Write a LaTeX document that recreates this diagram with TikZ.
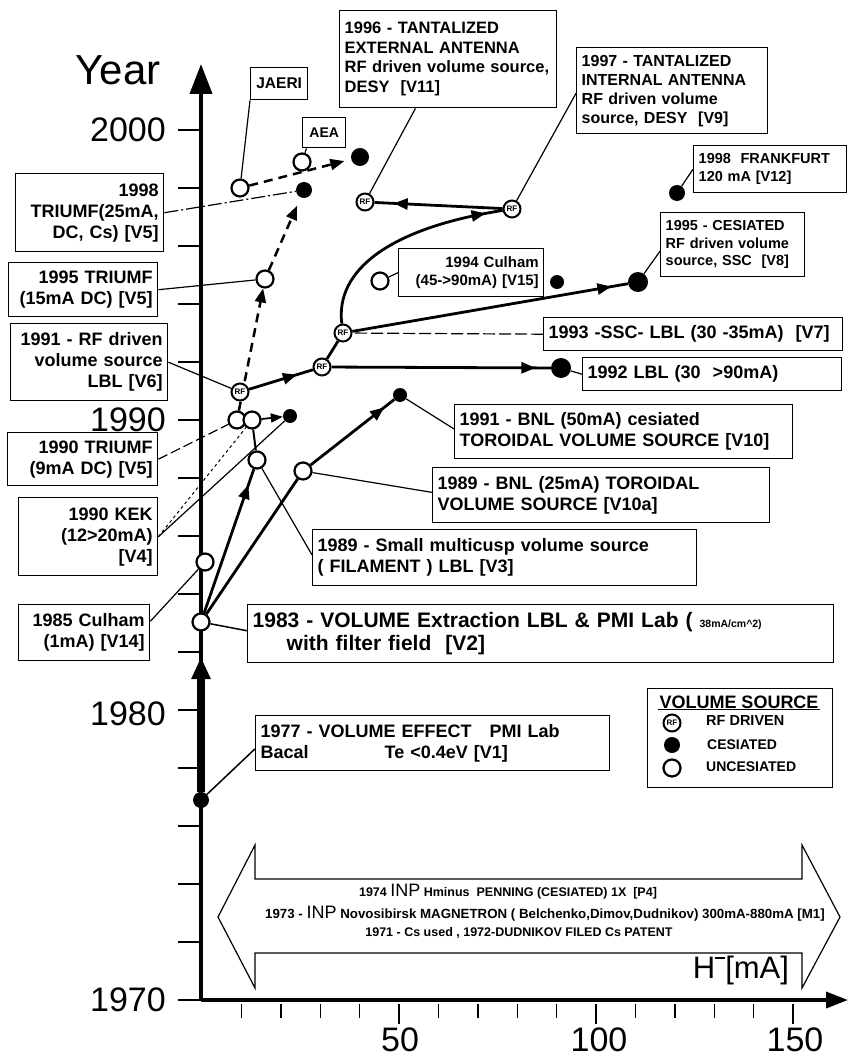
\documentclass[tikz,border=0pt]{standalone}
\usepackage{fontspec}
\setmainfont{Liberation Sans}
\usetikzlibrary{arrows.meta,decorations.markings,calc}
\pgfdeclarelayer{bg}
\pgfsetlayers{bg,main}
\tikzset{
 box/.style={draw, line width=1.4pt, fill=white, anchor=north west, inner xsep=5pt, inner ysep=0pt,
   font=\fontsize{18}{21}\selectfont\bfseries},
 odot/.style={circle, draw, line width=2.2pt, fill=white, minimum size=17pt, inner sep=0pt},
 fdot/.style={circle, fill=black, minimum size=#1, inner sep=0pt},
 fdot/.default=15pt,
 rfs/.style={circle, draw, line width=2pt, fill=white, minimum size=17pt, inner sep=0pt,
   font=\fontsize{8}{8}\selectfont\bfseries},
 ptr/.style={line width=1.2pt},
 thk/.style={line width=2.8pt},
 dsh/.style={line width=2.5pt, dash pattern=on 9pt off 6pt},
 arrmark/.style={postaction={decorate}, decoration={markings,
   mark=at position #1 with {\arrow{Triangle[length=14pt,width=11pt]}}}},
 tip/.style={-{Triangle[length=14pt,width=11pt]}},
 axlab/.style={font=\fontsize{34}{34}\selectfont, inner sep=0pt},
 tiny/.style={font=\fontsize{12.5}{13}\selectfont\bfseries, inner sep=0pt},
 lgtxt/.style={font=\fontsize{14}{14}\selectfont\bfseries, anchor=west, inner sep=0pt},
}
\begin{document}
\begin{tikzpicture}[x=1pt,y=-1pt]
\useasboundingbox (0,0) rectangle (848,1059);
% ---------- axes ----------
\coordinate (O) at (201,1000);
\coordinate (ytop) at (201,64);
\coordinate (xend) at (848,1000);
\coordinate (a83) at (201,657);
\begin{pgfonlayer}{bg}
\draw[line width=4pt, -{Triangle[length=30pt,width=22pt]}] (O) -- (ytop);
\draw[line width=3.5pt, -{Triangle[length=22pt,width=16pt]}] (O) -- (xend);
\foreach \k in {0,2,...,30} \draw[line width=1.4pt] (178,{1000-29*\k}) -- (201,{1000-29*\k});
\foreach \m in {10,20,30,40,60,70,80,90,110,120,130,140} \draw[line width=1.4pt] ({202+3.94*\m},1004) -- ({202+3.94*\m},1018);
\foreach \m in {50,100,150} \draw[line width=1.4pt] ({202+3.94*\m},1004) -- ({202+3.94*\m},1024);
\end{pgfonlayer}
\node[font=\fontsize{42}{42}\selectfont, inner sep=0pt] (ylab) at (118,70) {Year};
\node[axlab, anchor=east] (l2000) at (166,130) {2000};
\node[axlab, anchor=east] (l1990) at (166,420) {1990};
\node[axlab, anchor=east] (l1980) at (166,714) {1980};
\node[axlab, anchor=east] (l1970) at (166,1000) {1970};
\node[axlab] (l50) at (400,1040) {50};
\node[axlab] (l100) at (599,1040) {100};
\node[axlab] (l150) at (795,1040) {150};
\node[font=\fontsize{31}{31}\selectfont, inner sep=0pt] (hlab) at (741,970) {H\raisebox{.62em}{\rule{.32em}{.07em}}[mA]};
% ---------- bottom double arrow ----------
\draw[line width=1.2pt] (218,917) -- (255,845) -- (255,879) -- (802,879) -- (802,845) -- (840,917)
   -- (802,988) -- (802,953) -- (255,953) -- (255,988) -- cycle;
\node[tiny] (t74) at (508,892) {1974 {\fontsize{18}{18}\selectfont\mdseries INP}\ Hminus\ \ PENNING (CESIATED) 1X\ \ [P4]};
\node[tiny, font=\fontsize{13.3}{14}\selectfont\bfseries] (t73) at (545,914) {1973 - {\fontsize{18}{18}\selectfont\mdseries INP} Novosibirsk MAGNETRON ( Belchenko,Dimov,Dudnikov) 300mA-880mA [M1]};
\node[tiny] (t71) at (519,933) {1971 - Cs used , 1972-DUDNIKOV FILED Cs PATENT};
% ---------- data points ----------
\node[fdot=16pt] (p77) at (201,800) {};
\node[odot] (p83) at (201,622) {};
\node[odot] (p85) at (205,562) {};
\node[odot] (p89s) at (257,460) {};
\node[odot] (p89b) at (303,471) {};
\node[odot] (p90a) at (237,420) {};
\node[odot] (p90b) at (252,420) {};
\node[fdot=14pt] (p90k) at (290,416) {};
\node[rfs] (p91rf) at (240,392) {RF};
\node[fdot=14pt] (p91b) at (400,395) {};
\node[rfs] (p92rf) at (322,367) {RF};
\node[fdot=20pt] (p92d) at (561,368) {};
\node[rfs] (p93rf) at (343,333) {RF};
\node[odot] (p94o) at (380,281) {};
\node[fdot=14pt] (p94d) at (557,282) {};
\node[fdot=20pt] (p95s) at (638,282) {};
\node[odot] (p95t) at (265,279) {};
\node[rfs] (p96rf) at (365,202) {RF};
\node[rfs] (p97rf) at (512,209) {RF};
\node[fdot=16pt] (p98t) at (304,190) {};
\node[odot] (pJ) at (240,188) {};
\node[odot] (pA) at (302,162) {};
\node[fdot=18pt] (pJd) at (360,157) {};
\node[fdot=16pt] (p98f) at (677,193) {};
% ---------- boxes ----------
\node[box, font=\fontsize{16.5}{19.5}\selectfont\bfseries, text width=207pt, minimum height=97pt, align=left] (b96) at (339,10)
  {1996 - TANTALIZED\\EXTERNAL ANTENNA\\RF driven volume source,\\DESY\ \ [V11]};
\node[box, font=\fontsize{16}{19}\selectfont\bfseries, text width=181pt, minimum height=86pt, align=left] (b97) at (576,47)
  {1997 - TANTALIZED\\INTERNAL ANTENNA\\RF driven volume\\source, DESY\ \ [V9]};
\node[box, font=\fontsize{15.5}{17}\selectfont\bfseries, text width=47pt, minimum height=32pt, inner xsep=5pt, align=center] (bJ) at (250,67) {JAERI};
\node[box, font=\fontsize{14}{15}\selectfont\bfseries, text width=33pt, minimum height=30pt, align=center] (bA) at (302,117) {AEA};
\node[box, font=\fontsize{14.5}{18}\selectfont\bfseries, text width=143pt, minimum height=47pt, align=left] (bFr) at (693,145)
  {1998\ \ FRANKFURT\\120 mA [V12]};
\node[box, font=\fontsize{14.5}{17.5}\selectfont\bfseries, text width=134pt, minimum height=64pt, align=left] (b95s) at (660,212)
  {1995 - CESIATED\\RF driven volume\\source, SSC\ \ [V8]};
\node[box, font=\fontsize{15}{18}\selectfont\bfseries, text width=135pt, minimum height=48pt, align=right] (b94) at (398,248)
  {1994 Culham\\(45->90mA) [V15]};
\node[box, text width=289pt, minimum height=33pt, align=left] (b93) at (543,317) {1993 -SSC- LBL (30 -35mA)\ \ [V7]};
\node[box, text width=249pt, minimum height=33pt, align=left] (b92) at (582,357) {1992 LBL (30\ \ >90mA)};
\node[box, text width=328pt, minimum height=54pt, align=left] (b91b) at (454,404)
  {1991 - BNL (50mA) cesiated\\TOROIDAL VOLUME SOURCE [V10]};
\node[box, text width=327pt, minimum height=55pt, align=left] (b89b) at (432,467)
  {1989 - BNL (25mA) TOROIDAL\\VOLUME SOURCE [V10a]};
\node[box, text width=374pt, minimum height=56pt, align=left] (b89s) at (312,529)
  {1989 - Small multicusp volume source\\( FILAMENT ) LBL [V3]};
\node[box, font=\fontsize{21}{23.5}\selectfont\bfseries, text width=576pt, minimum height=58pt, align=left] (b83) at (247,604)
  {1983 - VOLUME Extraction LBL \& PMI Lab ( {\fontsize{10.5}{10.5}\selectfont 38mA/cm\textasciicircum2)}\\\hspace*{34pt}with filter field\ \ [V2]};
\node[box, text width=344pt, minimum height=55pt, align=left] (b77) at (255,715)
  {1977 - VOLUME EFFECT\ \ \ PMI Lab\\Bacal\hspace*{76pt}Te <0.4eV [V1]};
\node[box, text width=138pt, minimum height=78pt, align=right] (b98t) at (15,173) {1998\\TRIUMF(25mA,\\DC, Cs) [V5]};
\node[box, text width=139pt, minimum height=54pt, align=right] (b95t) at (8,262) {1995 TRIUMF\\(15mA DC) [V5]};
\node[box, text width=147pt, minimum height=77pt, align=right] (b91rf) at (10,323) {1991 - RF driven\\volume source\\LBL [V6]};
\node[box, text width=140pt, minimum height=53pt, align=right] (b90t) at (7,432) {1990 TRIUMF\\(9mA DC) [V5]};
\node[box, text width=129pt, minimum height=78pt, align=right] (b90k) at (18,497) {1990 KEK\\(12>20mA)\\{}[V4]};
\node[box, text width=121pt, minimum height=56pt, align=right] (b85) at (18,604) {1985 Culham\\(1mA) [V14]};
% ---------- legend ----------
\node[box, minimum width=185pt, minimum height=99pt] (lg) at (647,688) {};
\node[font=\fontsize{18}{18}\selectfont\bfseries, inner sep=1pt] (lgt) at (739,702) {VOLUME SOURCE};
\draw[line width=1.4pt] (lgt.south west) -- (lgt.south east);
\node[rfs] (lrf) at (672,723) {RF};
\node[fdot=16pt] (lcs) at (672,745) {};
\node[odot] (luc) at (672,768) {};
\node[lgtxt, font=\fontsize{14.5}{14.5}\selectfont\bfseries] (lrft) at (706,721) {RF DRIVEN};
\node[lgtxt] (lcst) at (707,745) {CESIATED};
\node[lgtxt] (luct) at (706,767) {UNCESIATED};
% ---------- connectors (behind points and boxes) ----------
\begin{pgfonlayer}{bg}
\draw[line width=7.5pt, -{Triangle[length=22pt,width=18pt]}] (p77) -- (a83);
\draw[thk, arrmark=0.89] (p83) -- (p89s);
\draw[thk] (p83) -- (p89b);
\draw[thk, arrmark=0.88] (p89b) -- (p91b);
\draw[line width=2pt] (p89s) -- (p90b);
\draw[line width=1.8pt, -{Triangle[length=12pt,width=9pt]}] (p90b) -- (p90k);
\draw[dsh, tip] (p90a) -- (p95t);
\draw[dsh, tip, shorten >=9pt] (p95t) -- (p98t);
\draw[dsh, tip, shorten >=7pt] (pJ) -- (pJd);
\draw[thk, arrmark=0.75] (p91rf) -- (p92rf);
\draw[thk, arrmark=0.93] (p92rf) -- (p92d);
\draw[thk] (p92rf) -- (p93rf);
\draw[thk, arrmark=0.94] (p93rf) -- (p95s);
\draw[thk, arrmark=0.92] (p93rf) .. controls (335,270) and (390,228) .. (p97rf);
\draw[thk, arrmark=0.85] (p97rf) -- (p96rf);
% pointers
\draw[ptr] ($(b96.south west)!.35!(b96.south east)$) -- (p96rf);
\draw[ptr] ($(b97.north west)!.53!(b97.south west)$) -- (p97rf);
\draw[ptr] ($(bFr.north west)!.5!(bFr.south west)$) -- (p98f);
\draw[ptr] ($(b95s.north west)!.6!(b95s.south west)$) -- (p95s);
\draw[ptr] ($(b94.north west)!.5!(b94.south west)$) -- (p94o);
\draw[ptr, dash pattern=on 12pt off 4pt] (b93.west) -- (p93rf);
\draw[ptr] (b92.west) -- (p92d);
\draw[ptr] ($(b91b.north west)!.45!(b91b.south west)$) -- (p91b);
\draw[ptr] ($(b89b.north west)!.45!(b89b.south west)$) -- (p89b);
\draw[ptr] ($(b89s.north west)!.45!(b89s.south west)$) -- (p89s);
\draw[line width=1.5pt] ($(b83.north west)!.45!(b83.south west)$) -- (p83);
\draw[line width=1.5pt] ($(b77.north west)!.6!(b77.south west)$) -- (p77);
\draw[ptr] (bJ.south west) -- (pJ);
\draw[ptr] ($(bA.south west)!.1!(bA.south east)$) -- (pA);
\draw[ptr, dash pattern=on 14pt off 3pt on 2pt off 3pt] ($(b98t.north east)!.5!(b98t.south east)$) -- (p98t);
\draw[ptr] ($(b95t.north east)!.5!(b95t.south east)$) -- (p95t);
\draw[ptr] ($(b91rf.north east)!.5!(b91rf.south east)$) -- (p91rf);
\draw[ptr, dash pattern=on 10pt off 4pt] ($(b90t.north east)!.5!(b90t.south east)$) -- (p90a);
\draw[ptr] ($(b90k.north east)!.5!(b90k.south east)$) -- (p90k);
\draw[line width=1pt, dash pattern=on 3pt off 3pt] ($(b90k.north east)!.5!(b90k.south east)$) -- (p90b);
\draw[ptr] ($(b85.north east)!.3!(b85.south east)$) -- (p85);
\end{pgfonlayer}
\end{tikzpicture}
\end{document}
